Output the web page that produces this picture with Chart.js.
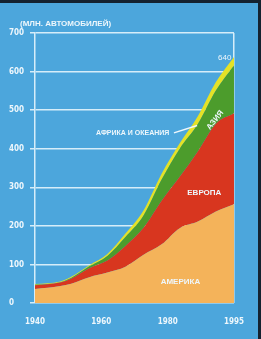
<!DOCTYPE html>
<html>
<head>
<meta charset="utf-8">
<script src="https://cdn.jsdelivr.net/npm/chart.js@4/dist/chart.umd.min.js"></script>
<style>
  html, body { margin: 0; padding: 0; background: #142230; }
  #wrap { width: 261px; height: 339px; position: relative; background: #142230; }
  #cars { position: absolute; left: 0; top: 3px; background: #4ca6dc; }
</style>
</head>
<body>
<div id="wrap"><canvas id="cars" width="258" height="336"></canvas></div>
<script>
// World car fleet by region, millions
const years   = [1940, 1947, 1950, 1955, 1960, 1965, 1970, 1975, 1980, 1985, 1990, 1995];
const america = [36, 44, 50, 67, 79, 94, 125, 152, 194, 211, 237, 256];
const europe  = [10, 9, 13, 23, 31, 54, 70, 113, 133, 182, 228, 236];
const asia    = [1, 1, 2, 5, 12, 23, 32, 55, 73, 71, 86, 124];
const africaOceania = [2, 2, 3, 3, 5, 9, 13, 15, 14, 20, 22, 22];
const xLabels = ['1940', '1960', '1980', '1995'];
const totalLabel = '640';

const textColor = '#eef7fc';
const gridColor = '#d6edf9';
const narrow = "'Liberation Sans Narrow', 'DejaVu Sans Condensed', sans-serif";
const sans = "'Liberation Sans', Arial, sans-serif";

function points(values) {
    return years.map((yr, i) => ({ x: yr, y: values[i] }));
}

function series(label, values, color, fill) {
    return {
        label: label,
        data: points(values),
        xAxisID: 'xd',
        backgroundColor: color,
        borderColor: color,
        borderWidth: 0,
        pointRadius: 0,
        fill: fill,
        cubicInterpolationMode: 'monotone'
    };
}

// texts drawn inside the plot
const labelsPlugin = {
    id: 'regionLabels',
    afterDatasetsDraw(chart) {
        const ctx = chart.ctx;
        const xs = chart.scales.xd;
        const ys = chart.scales.y;
        ctx.save();
        ctx.fillStyle = textColor;
        ctx.textBaseline = 'middle';

        ctx.textAlign = 'left';
        ctx.font = 'bold 8px ' + sans;
        ctx.fillText('(МЛН. АВТОМОБИЛЕЙ)', 20, ys.getPixelForValue(700) - 9);

        ctx.textAlign = 'center';
        ctx.font = 'bold 8px ' + sans;
        ctx.fillText('АМЕРИКА', xs.getPixelForValue(1980.2), ys.getPixelForValue(55));
        ctx.fillText('ЕВРОПА', xs.getPixelForValue(1986.8), ys.getPixelForValue(285));

        ctx.font = 'bold 7px ' + sans;
        ctx.fillText('АФРИКА И ОКЕАНИЯ', xs.getPixelForValue(1967), ys.getPixelForValue(441));

        // pointer to the thin yellow band
        ctx.strokeStyle = textColor;
        ctx.lineWidth = 1.5;
        ctx.beginPath();
        ctx.moveTo(xs.getPixelForValue(1978.4), ys.getPixelForValue(441));
        ctx.lineTo(xs.getPixelForValue(1984.8), ys.getPixelForValue(460));
        ctx.stroke();

        ctx.save();
        ctx.translate(xs.getPixelForValue(1989.8), ys.getPixelForValue(474));
        ctx.rotate(-52 * Math.PI / 180);
        ctx.font = 'bold 8px ' + sans;
        ctx.fillText('АЗИЯ', 0, 0);
        ctx.restore();

        ctx.textAlign = 'right';
        ctx.font = '8px ' + sans;
        ctx.fillText(totalLabel, xs.getPixelForValue(1994.3), ys.getPixelForValue(636));
        ctx.restore();
    }
};

const config = {
    type: 'line',
    data: {
        datasets: [
            series('Америка', america, '#f4b35a', 'origin'),
            series('Европа', europe, '#d8361f', '-1'),
            series('Азия', asia, '#4c9c2c', '-1'),
            series('Африка и Океания', africaOceania, '#e4e226', '-1')
        ]
    },
    plugins: [labelsPlugin],
    options: {
        responsive: false,
        animation: false,
        layout: { padding: { left: 9, top: 30, right: 23, bottom: 0 } },
        plugins: {
            legend: { display: false },
            tooltip: { enabled: false }
        },
        scales: {
            xd: {
                type: 'linear',
                min: 1940,
                max: 1995,
                display: false
            },
            x: {
                type: 'category',
                labels: xLabels,
                offset: false,
                afterFit(scale) { scale.height = 36; },
                border: { display: false },
                grid: {
                    drawTicks: false,
                    lineWidth: 1.5,
                    color: (c) => c.index === xLabels.length - 1 ? gridColor : 'rgba(0,0,0,0)'
                },
                ticks: {
                    color: textColor,
                    padding: 14,
                    maxRotation: 0,
                    autoSkip: false,
                    font: { family: narrow, size: 8, weight: 'bold' }
                }
            },
            y: {
                stacked: true,
                min: 0,
                max: 700,
                afterFit(scale) { scale.width = 26; },
                border: { color: gridColor, width: 1.5 },
                grid: { color: gridColor, lineWidth: 1.5, tickLength: 5 },
                ticks: {
                    stepSize: 100,
                    crossAlign: 'far',
                    color: textColor,
                    font: { family: narrow, size: 8, weight: 'bold' }
                }
            }
        }
    }
};

new Chart(document.getElementById('cars'), config);
</script>
</body>
</html>
